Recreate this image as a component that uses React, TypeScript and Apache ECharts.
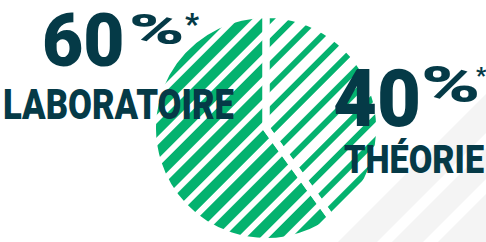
import React, { useEffect, useRef } from "react";
import * as echarts from "echarts";

// ---- data ----
const categories = ["THÉORIE", "LABORATOIRE"];
const values = [40, 60];
const footnoteMark = "*";

// ---- styles ----
const GREEN = "#04b26f";
const INK = "#053a47";
const BAND = "#f4f4f4";
const FONT = "Roboto, 'DejaVu Sans', sans-serif";

export default function App() {
  const ref = useRef<HTMLDivElement>(null);

  useEffect(() => {
    document.body.style.margin = "0";
    const chart = echarts.init(ref.current!, undefined, { renderer: "svg" });

    const pieData = categories.map((name, i) => ({
      name,
      value: values[i],
      itemStyle: {
        color: GREEN,
        decal: {
          symbol: "rect",
          symbolSize: 1,
          dashArrayX: [1, 0],
          dashArrayY: i === 0 ? [10, 6] : [6, 10],
          rotation: -Math.PI / 4,
          color: "#ffffff",
        },
      },
    }));

    const overlayData = categories.map((name, i) => ({ name, value: values[i] }));

    const band = (c1: number, c2: number) => ({
      type: "polygon",
      z: 0,
      silent: true,
      shape: {
        points: [
          [c1 - 242, 242],
          [486, c1 - 486],
          [486, c2 - 486],
          [c2 - 242, 242],
        ],
      },
      style: { fill: BAND },
    });

    const txt = (
      text: string,
      x: number,
      y: number,
      size: number,
      scaleX: number
    ) => ({
      type: "text",
      z: 100,
      x,
      y,
      scaleX,
      silent: true,
      style: {
        text,
        font: `900 ${size}px ${FONT}`,
        lineHeight: size,
        fill: INK,
        textAlign: "left",
        textVerticalAlign: "middle",
      },
    });

    const theo = values[0];
    const labo = values[1];

    chart.setOption({
      animation: false,
      backgroundColor: "#ffffff",
      graphic: [
        band(580, 619),
        band(634, 665),
        band(680, 760),
        txt(String(labo), 42, 40, 75, 0.95),
        txt("%", 129, 30, 42, 1.78),
        txt(footnoteMark, 185, 23, 30, 1),
        txt(categories[1], 3, 104, 42, 0.825),
        txt(String(theo), 333, 99, 80, 0.95),
        txt("%", 421, 85, 50, 1.6),
        txt(footnoteMark, 476, 75, 22, 1),
        txt(categories[0], 344, 160, 38, 0.9),
      ],
      series: [
        {
          type: "pie",
          center: [266, 128],
          radius: 112,
          startAngle: 90,
          clockwise: true,
          silent: true,
          z: 2,
          label: { show: false },
          labelLine: { show: false },
          emphasis: { disabled: true },
          data: pieData,
        },
        {
          type: "pie",
          center: [266, 128],
          radius: 113.5,
          startAngle: 90,
          clockwise: true,
          silent: true,
          z: 3,
          label: { show: false },
          labelLine: { show: false },
          emphasis: { disabled: true },
          itemStyle: {
            color: "rgba(0,0,0,0)",
            borderColor: "#ffffff",
            borderWidth: 7,
          },
          data: overlayData,
        },
      ],
    });

    return () => chart.dispose();
  }, []);

  return (
    <div
      ref={ref}
      style={{ position: "absolute", left: 0, top: 0, width: 486, height: 242 }}
    />
  );
}
